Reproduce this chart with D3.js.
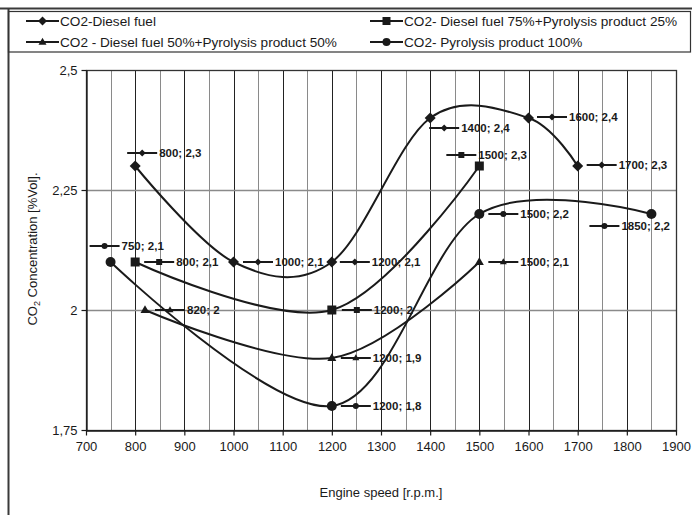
<!DOCTYPE html>
<html>
<head>
<meta charset="utf-8">
<script src="https://cdn.jsdelivr.net/npm/d3@7"></script>
<style>
  html, body { margin: 0; padding: 0; background: #fff; }
  svg { display: block; font-family: "Liberation Sans", Arial, sans-serif; }
</style>
</head>
<body>
<svg id="chart" width="692" height="515"></svg>
<script>
// Engine speed (r.p.m.) and CO2 concentration (% vol) for each fuel blend
const rpmDiesel = [800, 1000, 1200, 1400, 1600, 1700];
const co2Diesel = [2.3, 2.1, 2.1, 2.4, 2.4, 2.3];

const rpmBlend75 = [800, 1200, 1500];
const co2Blend75 = [2.1, 2.0, 2.3];

const rpmBlend50 = [820, 1200, 1500];
const co2Blend50 = [2.0, 1.9, 2.1];

const rpmPyro = [750, 1200, 1500, 1850];
const co2Pyro = [2.1, 1.8, 2.2, 2.2];

const seriesNames = [
  "CO2-Diesel fuel",
  "CO2- Diesel fuel 75%+Pyrolysis product 25%",
  "CO2 - Diesel fuel 50%+Pyrolysis product 50%",
  "CO2- Pyrolysis product 100%"
];

const xTicks = [700, 800, 900, 1000, 1100, 1200, 1300, 1400, 1500, 1600, 1700, 1800, 1900];
const yTicks = [1.75, 2, 2.25, 2.5];
const yTickLabels = ["1,75", "2", "2,25", "2,5"];

// Data-label placement relative to its point: [key start dx, dy] in px
const labelOffsets = [
  [[-8, -13], [9.5, 0], [8, 0], [-1, 10], [8.5, -1], [9, -1]],
  [[9, 0], [10, 0], [-33, -11]],
  [[10, 0], [9, 0], [9, 0]],
  [[-21, -16], [9, 0], [9, 0], [-62, 12]]
];

// Custom marker shapes (size = full width in px)
const shapes = {
  diamond: { draw(ctx, s) { const r = s / 2; ctx.moveTo(0, -r); ctx.lineTo(r, 0); ctx.lineTo(0, r); ctx.lineTo(-r, 0); ctx.closePath(); } },
  square: { draw(ctx, s) { const r = s / 2; ctx.rect(-r, -r, s, s); } },
  triangle: { draw(ctx, s) { const r = s / 2; const h = s * 0.866; ctx.moveTo(0, -h * 0.62); ctx.lineTo(r, h * 0.38); ctx.lineTo(-r, h * 0.38); ctx.closePath(); } },
  circle: { draw(ctx, s) { const r = s / 2; ctx.moveTo(r, 0); ctx.arc(0, 0, r, 0, Math.PI * 2); } }
};

const series = [
  { name: seriesNames[0], x: rpmDiesel, y: co2Diesel, shape: "diamond", big: 11, small: 7, leg: 9 },
  { name: seriesNames[1], x: rpmBlend75, y: co2Blend75, shape: "square", big: 9, small: 6, leg: 8 },
  { name: seriesNames[2], x: rpmBlend50, y: co2Blend50, shape: "triangle", big: 9, small: 7, leg: 8 },
  { name: seriesNames[3], x: rpmPyro, y: co2Pyro, shape: "circle", big: 10, small: 6, leg: 8 }
];

const ink = "#1a1a1a";
const svg = d3.select("#chart");

// Outer frame (top and left edges) and the legend box
svg.append("line").attr("x1", 0).attr("x2", 692).attr("y1", 8.5).attr("y2", 8.5)
  .attr("stroke", "#3a3a3a").attr("stroke-width", 2);
svg.append("line").attr("x1", 8.5).attr("x2", 8.5).attr("y1", 8).attr("y2", 515)
  .attr("stroke", "#3a3a3a").attr("stroke-width", 2);
svg.append("rect").attr("x", 8.5).attr("y", 11.5).attr("width", 682).attr("height", 40.5)
  .attr("fill", "none").attr("stroke", "#333").attr("stroke-width", 1.2);

// Plot area
const plot = { left: 86, right: 676, top: 70, bottom: 430 };
const x = d3.scaleLinear().domain([700, 1900]).range([plot.left, plot.right]);
const y = d3.scaleLinear().domain([1.75, 2.5]).range([plot.bottom, plot.top]);

const grid = svg.append("g");
// vertical grid every 50 r.p.m.; darker at the hundreds
d3.range(750, 1900, 50).forEach(v => {
  const major = v % 100 === 0;
  grid.append("line")
    .attr("x1", Math.round(x(v)) + 0.5).attr("x2", Math.round(x(v)) + 0.5)
    .attr("y1", plot.top).attr("y2", plot.bottom)
    .attr("stroke", major ? "#222" : "#8a8a8a").attr("stroke-width", 1);
});
// horizontal grid
yTicks.slice(1, -1).forEach(v => {
  grid.append("line")
    .attr("x1", plot.left).attr("x2", plot.right)
    .attr("y1", Math.round(y(v)) + 0.5).attr("y2", Math.round(y(v)) + 0.5)
    .attr("stroke", "#8a8a8a").attr("stroke-width", 1.5);
});

svg.append("rect")
  .attr("x", plot.left + 0.5).attr("y", plot.top + 0.5)
  .attr("width", plot.right - plot.left).attr("height", plot.bottom - plot.top)
  .attr("fill", "none").attr("stroke", "#333").attr("stroke-width", 1.3);

// Axes
const xAxis = d3.axisBottom(x).tickValues(xTicks).tickSize(5).tickSizeOuter(0).tickPadding(6)
  .tickFormat(d => String(d));
const gx = svg.append("g").attr("transform", `translate(0,${plot.bottom + 0.5})`).call(xAxis);
const yAxis = d3.axisLeft(y).tickValues(yTicks).tickSize(5).tickSizeOuter(0).tickPadding(4)
  .tickFormat((d, i) => yTickLabels[i]);
const gy = svg.append("g").attr("transform", `translate(${plot.left + 0.5},0)`).call(yAxis);
[gx, gy].forEach(g => {
  g.select(".domain").attr("stroke", ink).attr("stroke-width", 1.3);
  g.selectAll(".tick line").attr("stroke", ink).attr("stroke-width", 1.2);
  g.selectAll(".tick text").attr("fill", ink).attr("font-size", 13)
    .attr("font-family", "'Liberation Sans', Arial, sans-serif");
});

// Axis titles
svg.append("text").attr("x", (plot.left + plot.right) / 2).attr("y", 497)
  .attr("text-anchor", "middle").attr("font-size", 13).attr("fill", ink)
  .text("Engine speed [r.p.m.]");
const yTitle = svg.append("text")
  .attr("transform", "translate(37,249) rotate(-90)")
  .attr("text-anchor", "middle").attr("font-size", 13).attr("fill", ink);
yTitle.append("tspan").text("CO");
yTitle.append("tspan").attr("font-size", 9).attr("dy", 3).text("2");
yTitle.append("tspan").attr("dy", -3).text(" Concentration [%Vol].");

// Smoothed series lines
const line = d3.line().curve(d3.curveCardinal.tension(0))
  .x(d => x(d[0])).y(d => y(d[1]));

const fmt = v => String(v).replace(".", ",");

series.forEach((s, si) => {
  const pts = s.x.map((v, i) => [v, s.y[i]]);
  const g = svg.append("g");
  g.append("path").attr("d", line(pts)).attr("fill", "none")
    .attr("stroke", ink).attr("stroke-width", 2);
  g.selectAll(".pt").data(pts).join("path")
    .attr("transform", d => `translate(${x(d[0])},${y(d[1])})`)
    .attr("d", d3.symbol().type(shapes[s.shape]).size(s.big))
    .attr("fill", ink);

  // Data labels with a small legend key in front of the text
  pts.forEach((d, i) => {
    const [dx, dy] = labelOffsets[si][i];
    const lx = x(d[0]) + dx, ly = y(d[1]) + dy;
    const lg = svg.append("g").attr("transform", `translate(${lx},${ly})`);
    lg.append("line").attr("x1", 0).attr("x2", 30).attr("y1", 0).attr("y2", 0)
      .attr("stroke", ink).attr("stroke-width", 2);
    lg.append("path").attr("transform", "translate(15,0)")
      .attr("d", d3.symbol().type(shapes[s.shape]).size(s.small)).attr("fill", ink);
    lg.append("text").attr("x", 32).attr("y", 0).attr("dy", "0.36em")
      .attr("font-size", 11.5).attr("font-weight", "bold").attr("fill", ink)
      .text(`${d[0]}; ${fmt(d[1])}`);
  });
});

// Legend
const legendPos = [[26, 21], [370, 21], [26, 42], [370, 42]];
series.forEach((s, i) => {
  const [lx, ly] = legendPos[i];
  const g = svg.append("g").attr("transform", `translate(${lx},${ly})`);
  g.append("line").attr("x1", 0).attr("x2", 33).attr("stroke", ink).attr("stroke-width", 2);
  g.append("path").attr("transform", "translate(16.5,0)")
    .attr("d", d3.symbol().type(shapes[s.shape]).size(s.leg)).attr("fill", ink);
  g.append("text").attr("x", 34).attr("dy", "0.36em").attr("font-size", 13.6)
    .attr("fill", ink).text(s.name);
});
</script>
</body>
</html>
